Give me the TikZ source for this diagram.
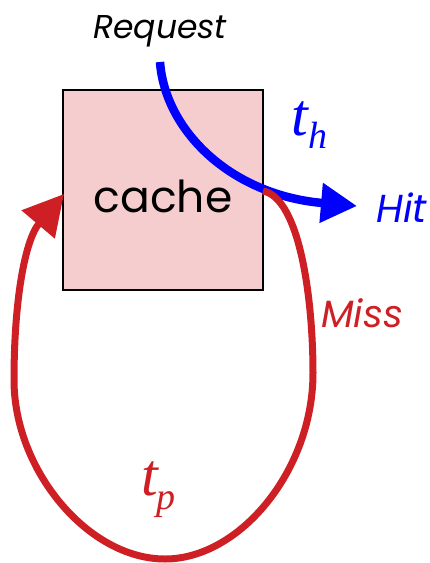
\documentclass[tikz,border=0pt]{standalone}
\usepackage{fontspec}
\newfontfamily\geo{Poppins}
\setmainfont{Liberation Serif}
\usetikzlibrary{arrows.meta}
\definecolor{cpink}{HTML}{F6CDCF}
\definecolor{cred}{HTML}{CE1F24}
\definecolor{cblue}{HTML}{0000FF}
\begin{document}
\begin{tikzpicture}[x=1pt,y=-1pt,
  lbl/.style={inner sep=0pt, anchor=base west},
  boxst/.style={draw=black, line width=1.8pt, fill=cpink, minimum width=200pt, minimum height=200pt, inner sep=0pt},
  bluearr/.style={draw=cblue, line width=8.5pt, -{Triangle[length=36pt,width=38pt]}},
  redarr/.style={draw=cred, line width=7pt, -{Triangle[length=40pt,width=42pt]}}]
\useasboundingbox (0,0) rectangle (429,563);
\node[boxst] (cache) at (163,190) {};
\node[inner sep=0pt] (ctext) at (163,196) {\geo\fontsize{44}{44}\selectfont cache};
\node[lbl] (req) at (93,38) {\geo\itshape\fontsize{33}{33}\selectfont Request};
\node[lbl, text=cblue] (hit) at (376,222) {\geo\itshape\fontsize{39}{39}\selectfont Hit};
\node[lbl, text=cred] (miss) at (321,327) {\geo\itshape\fontsize{38}{38}\selectfont Miss};
\node[lbl, text=cblue] (th) at (291,135) {\fontsize{60}{60}\selectfont\itshape t\hspace{1pt}\raisebox{-13pt}{\fontsize{38}{38}\selectfont h}};
\node[lbl, text=cred] (tp) at (141,495) {\fontsize{60}{60}\selectfont\itshape t\hspace{-1pt}\raisebox{-14pt}{\fontsize{38}{38}\selectfont p}};
\coordinate (bstart) at (160,62);
\coordinate (bend) at (357,206);
\coordinate (rstart) at (263,191);
\coordinate (rend) at (64,194);
\draw[bluearr] (bstart) .. controls (165,130) and (230,195) .. (bend);
\draw[redarr] (rstart) .. controls (300,198) and (313,300) .. (313,373)
  .. controls (313,470) and (240,559) .. (165,559)
  .. controls (88,559) and (14,470) .. (14,380)
  .. controls (14,300) and (25,240) .. (rend);
\end{tikzpicture}
\end{document}
